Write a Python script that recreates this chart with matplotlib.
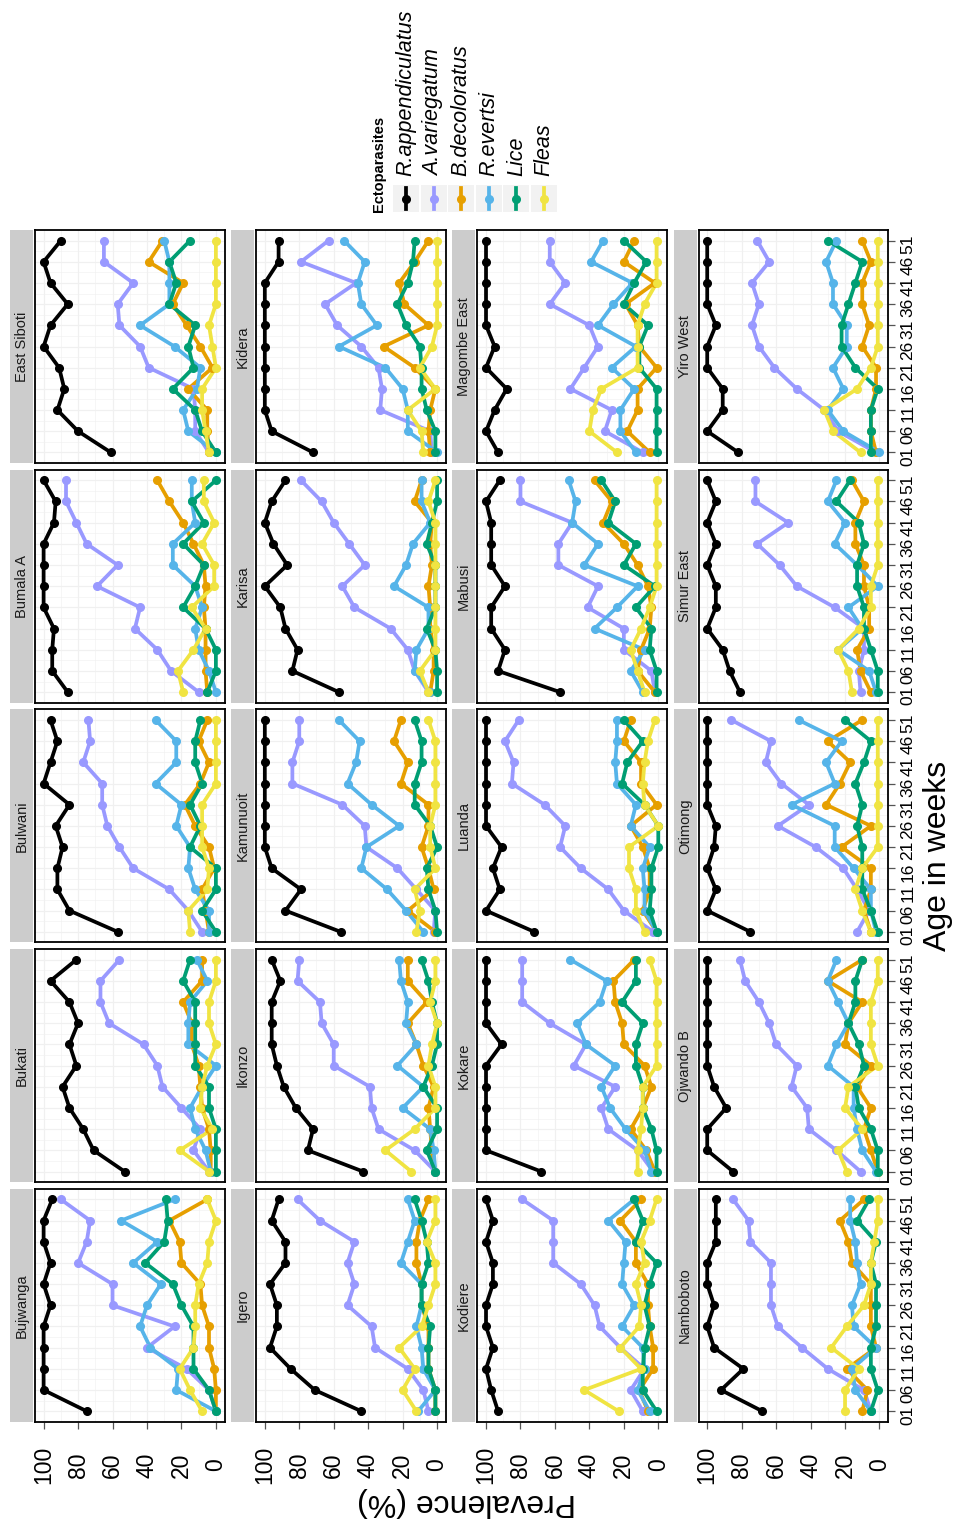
"""Prevalence of ectoparasites by age, one panel per village (rotated layout)."""

import matplotlib.pyplot as plt
from matplotlib.patches import Rectangle

W, H = 957, 1528
plt.rcParams['font.family'] = ['Liberation Sans', 'DejaVu Sans']

AGES = [1, 6, 11, 16, 21, 26, 31, 36, 41, 46, 51]
AGE_LABELS = ["01", "06", "11", "16", "21", "26", "31", "36", "41", "46", "51"]
PREV_TICKS = [0, 20, 40, 60, 80, 100]

VILLAGES = ["Bujwanga", "Bukati", "Bulwani", "Bumala A", "East Siboti",
            "Igero", "Ikonzo", "Kamunuoit", "Karisa", "Kidera",
            "Kodiere", "Kokare", "Luanda", "Mabusi", "Magombe East",
            "Namboboto", "Ojwando B", "Otimong", "Simur East", "Yiro West"]

PARASITES = ["R.appendiculatus", "A.variegatum", "B.decoloratus",
             "R.evertsi", "Lice", "Fleas"]
COLOURS = ["#000000", "#9999FF", "#E69F00", "#56B4E9", "#009E73", "#F0E442"]

# prevalence (%) per village (same order as VILLAGES), ages 01..51
R_APPENDICULATUS = [
    [75, 100, 100, 100, 100, 96, 100, 96, 100, 100, 95],
    [53, 71, 77, 85, 89, 81, 85, 80, 85, 96, 81],
    [57, 85, 92, 92, 89, 93, 85, 100, 96, 92, 96],
    [86, 95, 95, 94, 100, 100, 100, 100, 94, 93, 100],
    [61, 80, 92, 88, 91, 100, 96, 86, 96, 100, 90],
    [44, 71, 85, 97, 93, 93, 97, 88, 88, 96, 92],
    [43, 75, 72, 82, 89, 93, 96, 96, 96, 91, 96],
    [56, 88, 79, 96, 100, 100, 100, 100, 100, 100, 100],
    [57, 84, 81, 88, 91, 100, 87, 95, 100, 96, 88],
    [72, 96, 100, 100, 100, 100, 100, 100, 100, 92, 92],
    [93, 97, 100, 96, 100, 100, 96, 96, 100, 96, 100],
    [68, 100, 100, 100, 100, 100, 91, 100, 100, 100, 100],
    [72, 100, 92, 96, 91, 100, 100, 100, 100, 100, 100],
    [57, 93, 89, 97, 97, 89, 97, 97, 97, 100, 92],
    [93, 100, 95, 88, 100, 95, 100, 100, 100, 100, 100],
    [68, 92, 79, 96, 100, 96, 100, 100, 95, 95, 95],
    [85, 100, 100, 89, 96, 100, 100, 100, 100, 100, 100],
    [75, 100, 95, 100, 96, 95, 100, 100, 100, 100, 100],
    [81, 87, 91, 100, 95, 95, 100, 95, 100, 95, 100],
    [82, 100, 91, 91, 100, 100, 95, 100, 100, 100, 100],
]

A_VARIEGATUM = [
    [0, 4, 17, 40, 24, 60, 60, 80, 75, 73, 90],
    [4, 13, 9, 20, 31, 34, 42, 62, 67, 67, 56],
    [8, 16, 27, 48, 56, 63, 66, 66, 77, 73, 74],
    [10, 26, 34, 47, 44, 69, 57, 75, 81, 87, 87],
    [4, 12, 12, 13, 39, 44, 56, 57, 48, 65, 65],
    [5, 8, 17, 36, 38, 52, 48, 52, 48, 68, 81],
    [1, 13, 34, 38, 39, 60, 60, 67, 68, 81, 80],
    [2, 1, 12, 23, 41, 42, 55, 84, 84, 80, 80],
    [5, 13, 17, 27, 48, 55, 42, 51, 60, 67, 79],
    [3, 4, 33, 32, 34, 44, 58, 65, 47, 79, 63],
    [9, 16, 8, 22, 34, 37, 45, 61, 61, 61, 79],
    [3, 12, 29, 33, 25, 49, 42, 63, 79, 79, 79],
    [3, 20, 29, 45, 57, 54, 66, 85, 84, 89, 81],
    [2, 4, 20, 20, 41, 35, 58, 58, 50, 80, 80],
    [9, 31, 27, 51, 43, 35, 40, 63, 54, 63, 63],
    [5, 9, 30, 45, 59, 63, 63, 63, 75, 76, 85],
    [11, 25, 41, 42, 51, 48, 60, 64, 70, 78, 81],
    [13, 6, 13, 21, 37, 59, 41, 57, 66, 63, 86],
    [11, 12, 9, 9, 26, 48, 58, 71, 53, 72, 72],
    [2, 24, 32, 48, 61, 70, 74, 70, 74, 64, 71],
]

B_DECOLORATUS = [
    [0, 0, 1, 4, 4, 8, 9, 20, 21, 27, 5],
    [3, 3, 4, 8, 9, 10, 14, 14, 19, 8, 8],
    [4, 6, 8, 1, 4, 12, 18, 9, 4, 10, 5],
    [5, 6, 6, 6, 7, 6, 7, 13, 19, 27, 34],
    [4, 5, 5, 16, 2, 9, 17, 25, 19, 39, 31],
    [1, 1, 5, 5, 5, 9, 9, 12, 12, 10, 5],
    [1, 3, 4, 5, 2, 8, 12, 17, 6, 17, 17],
    [1, 17, 2, 5, 9, 5, 5, 21, 17, 25, 21],
    [4, 2, 2, 4, 4, 5, 3, 4, 3, 13, 9],
    [4, 5, 4, 1, 13, 31, 5, 19, 22, 13, 5],
    [6, 11, 3, 3, 5, 6, 6, 13, 13, 22, 10],
    [2, 7, 16, 9, 4, 8, 20, 21, 25, 26, 14],
    [1, 9, 5, 5, 9, 16, 1, 10, 10, 20, 16],
    [2, 12, 10, 5, 4, 6, 12, 20, 32, 27, 37],
    [5, 18, 12, 12, 1, 11, 12, 19, 2, 20, 14],
    [10, 7, 19, 2, 5, 5, 5, 16, 18, 23, 9],
    [1, 5, 9, 5, 13, 5, 20, 18, 10, 30, 10],
    [5, 9, 5, 5, 22, 5, 31, 23, 17, 30, 10],
    [5, 11, 13, 6, 6, 9, 9, 14, 14, 9, 16],
    [2, 5, 5, 2, 2, 10, 6, 10, 10, 5, 10],
]

R_EVERTSI = [
    [0, 23, 22, 38, 44, 40, 32, 48, 34, 55, 24],
    [3, 6, 12, 15, 8, 0, 16, 16, 15, 5, 11],
    [4, 4, 12, 16, 15, 23, 20, 35, 23, 23, 35],
    [0, 4, 10, 12, 8, 12, 25, 25, 12, 14, 14],
    [0, 16, 19, 11, 9, 24, 44, 27, 27, 27, 30],
    [11, 1, 8, 9, 12, 9, 9, 21, 17, 13, 17],
    [1, 2, 4, 20, 8, 23, 12, 18, 17, 21, 22],
    [8, 18, 29, 44, 41, 22, 38, 52, 47, 45, 57],
    [4, 13, 12, 5, 5, 25, 18, 14, 4, 9, 9],
    [0, 17, 17, 20, 30, 57, 35, 44, 46, 42, 54],
    [5, 12, 8, 9, 21, 14, 21, 20, 19, 29, 14],
    [4, 8, 19, 28, 33, 25, 42, 47, 34, 30, 51],
    [1, 8, 8, 9, 5, 16, 13, 24, 25, 24, 24],
    [9, 16, 8, 37, 24, 12, 43, 35, 50, 48, 52],
    [13, 22, 22, 14, 27, 13, 35, 26, 15, 39, 32],
    [5, 14, 16, 2, 15, 16, 11, 13, 14, 17, 17],
    [2, 10, 13, 15, 15, 30, 25, 18, 24, 30, 25],
    [2, 5, 5, 15, 26, 26, 51, 26, 31, 22, 47],
    [2, 6, 24, 10, 18, 1, 13, 26, 20, 30, 25],
    [0, 21, 30, 21, 27, 19, 19, 27, 27, 31, 25],
]

LICE = [
    [0, 4, 13, 13, 13, 20, 25, 41, 30, 28, 29],
    [0, 0, 0, 4, 4, 12, 12, 12, 12, 19, 15],
    [0, 8, 0, 0, 15, 9, 15, 8, 12, 12, 9],
    [5, 0, 0, 6, 19, 12, 7, 19, 7, 14, 0],
    [0, 8, 12, 25, 13, 16, 12, 27, 23, 27, 15],
    [1, 1, 5, 5, 4, 9, 9, 5, 6, 9, 13],
    [1, 6, 0, 0, 8, 3, 0, 0, 3, 5, 9],
    [0, 1, 5, 6, 0, 4, 13, 13, 9, 9, 13],
    [0, 0, 1, 6, 1, 1, 1, 6, 3, 0, 0],
    [1, 1, 6, 9, 9, 10, 18, 23, 17, 14, 13],
    [1, 9, 9, 8, 5, 8, 5, 1, 13, 9, 14],
    [1, 1, 4, 9, 9, 13, 13, 9, 21, 13, 13],
    [1, 5, 4, 4, 0, 0, 8, 21, 18, 9, 20],
    [1, 1, 5, 4, 13, 2, 20, 13, 29, 25, 33],
    [1, 1, 1, 1, 11, 11, 6, 20, 14, 7, 20],
    [5, 1, 5, 5, 2, 2, 2, 5, 2, 13, 6],
    [1, 1, 5, 12, 14, 9, 12, 18, 14, 14, 10],
    [1, 5, 10, 10, 10, 13, 10, 14, 9, 5, 20],
    [1, 1, 5, 9, 9, 13, 13, 9, 12, 25, 17],
    [5, 5, 5, 1, 14, 22, 22, 18, 14, 10, 30],
]

FLEAS = [
    [8, 15, 21, 13, 12, 12, 10, 5, 4, 0, 5],
    [4, 21, 2, 9, 8, 5, 0, 4, 4, 0, 0],
    [15, 16, 5, 4, 8, 8, 8, 0, 0, 0, 0],
    [19, 22, 13, 6, 14, 1, 1, 8, 1, 7, 7],
    [4, 6, 8, 8, 0, 2, 4, 0, 0, 0, 0],
    [12, 20, 13, 22, 9, 5, 1, 1, 6, 1, 1],
    [15, 30, 13, 1, 1, 5, 3, 0, 4, 1, 1],
    [12, 10, 13, 1, 4, 4, 1, 1, 1, 1, 5],
    [5, 10, 1, 1, 1, 1, 1, 1, 1, 5, 1],
    [8, 9, 17, 1, 10, 3, 0, 0, 0, 0, 0],
    [23, 43, 10, 22, 11, 10, 13, 8, 10, 5, 1],
    [12, 12, 10, 9, 9, 1, 1, 1, 1, 1, 5],
    [8, 13, 13, 17, 17, 0, 8, 9, 8, 6, 2],
    [8, 12, 16, 10, 5, 1, 1, 1, 1, 1, 1],
    [24, 40, 38, 33, 12, 12, 12, 8, 1, 1, 1],
    [20, 20, 12, 28, 19, 9, 5, 5, 3, 1, 1],
    [19, 24, 10, 20, 18, 1, 5, 5, 5, 1, 1],
    [5, 10, 14, 10, 1, 1, 1, 1, 1, 1, 1],
    [16, 18, 24, 12, 5, 5, 1, 1, 1, 1, 1],
    [11, 27, 32, 13, 5, 1, 1, 1, 1, 1, 1],
]

SERIES = [R_APPENDICULATUS, A_VARIEGATUM, B_DECOLORATUS, R_EVERTSI, LICE, FLEAS]

GRID = "#F0F0F0"
LW = 2.7
MS = 5.5


def px_axes(fig, x0, y0, x1, y1):
    """Axes from pixel box (top-left origin)."""
    return fig.add_axes([x0 / W, 1 - y1 / H, (x1 - x0) / W, (y1 - y0) / H])


def main():
    fig = plt.figure(figsize=(W / 100, H / 100), dpi=100)

    for k, village in enumerate(VILLAGES):
        i, j = divmod(k, 5)          # facet row / column of the unrotated plot
        x0 = 35 + i * 221.2
        x1 = x0 + 189.5
        y0 = 230 + (4 - j) * 239.7
        y1 = y0 + 233

        ax = px_axes(fig, x0, y0, x1, y1)
        ax.set_xlim(105, -5)
        ax.set_ylim(-1.5, 53.5)
        ax.set_xticks(PREV_TICKS)
        ax.set_xticks([10, 30, 50, 70, 90], minor=True)
        ax.set_yticks(AGES)
        ax.set_yticks([a + 2.5 for a in AGES[:-1]], minor=True)
        ax.grid(True, which="major", color=GRID, lw=0.9)
        ax.grid(True, which="minor", color=GRID, lw=0.4)
        ax.set_axisbelow(True)
        for sp in ax.spines.values():
            sp.set_linewidth(1.3)
            sp.set_color("black")

        for vals, col in zip(SERIES, COLOURS):
            ax.plot(vals[k], AGES, color=col, lw=LW, zorder=2,
                    solid_capstyle="round", solid_joinstyle="round")
        for vals, col in zip(SERIES, COLOURS):
            ax.plot(vals[k], AGES, "o", color=col, ms=MS, zorder=3)

        ax.tick_params(which="minor", length=0)
        ax.tick_params(which="major", color="#555555", width=0.9)
        if j == 0:
            ax.tick_params(axis="x", length=5, pad=26, labelsize=16.5,
                           labelrotation=90, labelcolor="black")
            ax.set_xticklabels([str(t) for t in PREV_TICKS])
            for lbl in ax.get_xticklabels():
                lbl.set_va("center")
        else:
            ax.tick_params(axis="x", length=0, labelbottom=False)
        ax.yaxis.tick_right()
        if i == 3:
            ax.tick_params(axis="y", length=5, pad=4, labelsize=12.5,
                           labelrotation=90, labelcolor="black")
            ax.set_yticklabels(AGE_LABELS)
        else:
            ax.tick_params(axis="y", length=0, labelright=False)

        sx = px_axes(fig, x0 - 25, y0, x0 - 2, y1)
        sx.set_facecolor("#CCCCCC")
        sx.set_xticks([])
        sx.set_yticks([])
        for sp in sx.spines.values():
            sp.set_visible(False)
        sx.text(0.5, 0.5, village, rotation=90, ha="center", va="center",
                fontsize=10.5, color="#1A1A1A", transform=sx.transAxes)

    fig.text(466 / W, 1 - 1502 / H, "Prevalence (%)", rotation=180,
             ha="center", va="center", fontsize=23)
    fig.text(938 / W, 1 - 856 / H, "Age in weeks", rotation=90,
             ha="center", va="center", fontsize=23)

    # legend, drawn rotated like the rest of the figure
    lg = fig.add_axes([0, 0, 1, 1])
    lg.set_xlim(0, W)
    lg.set_ylim(H, 0)
    lg.axis("off")
    lg.patch.set_alpha(0)
    lg.text(379, 212, "Ectoparasites", rotation=90, ha="center", va="bottom",
            fontsize=10.5, fontweight="bold")
    for n, (name, col) in enumerate(zip(PARASITES, COLOURS)):
        cx = 406 + n * 27.6
        lg.add_patch(Rectangle((cx - 13, 185), 26, 27, color="#F2F2F2", lw=0))
        lg.plot([cx, cx], [188, 209], color=col, lw=LW)
        lg.plot([cx], [198.5], "o", color=col, ms=MS)
        lg.text(cx, 176, name, rotation=90, ha="center", va="bottom",
                fontsize=15.5, style="italic")

    fig.savefig("out.png", dpi=100)
    plt.close()


if __name__ == "__main__":
    main()
